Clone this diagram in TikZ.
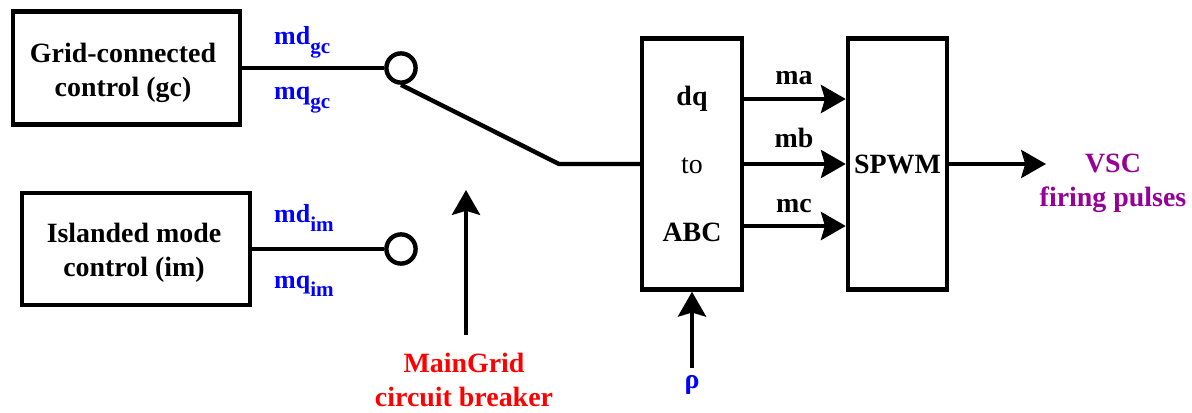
\documentclass[tikz,border=0pt]{standalone}
\usepackage{fontspec}
\setmainfont{Liberation Serif}
\usepackage{xcolor}
\usetikzlibrary{arrows.meta}
\definecolor{vscpurple}{RGB}{150,0,150}
\newcommand{\lowsub}[1]{\raisebox{-5.7pt}{\fontsize{15}{15}\selectfont #1}}

\begin{document}
\begin{tikzpicture}[x=0.025cm,y=-0.025cm,line width=0.11cm,
  font=\fontsize{19.85}{24.2}\selectfont\bfseries,
  blk/.style={draw,rectangle,inner sep=0pt},
  sig/.style={-{Stealth[length=0.62cm,width=0.7cm,inset=0.1cm]}},
  lbl/.style={font=\fontsize{18.5}{22}\selectfont\bfseries,text=blue,anchor=base west,inner sep=0pt},
  term/.style={draw,circle,minimum size=0.73cm,inner sep=0pt}]
\useasboundingbox (0,0) rectangle (1192,413);
% control blocks and switch terminals
\node[blk,minimum width=5.675cm,minimum height=2.825cm] (gc) at (126.5,68) {};
\node[align=center] (gctxt) at (123,73) {Grid-connected\\control (gc)};
\node[blk,minimum width=5.7cm,minimum height=2.8cm] (im) at (136,249) {};
\node[align=center] (imtxt) at (134,253) {Islanded mode\\control (im)};
\node[term] (cgc) at (401,68) {};
\node[term] (cim) at (401,249) {};
\draw (gc.east) -- (cgc.west);
\draw (im.east) -- (cim.west);
\node[lbl] (mdgc) at (272,45) {md\lowsub{gc}};
\node[lbl] (mqgc) at (272,100) {mq\lowsub{gc}};
\node[lbl] (mdim) at (272,223) {md\lowsub{im}};
\node[lbl] (mqim) at (272,288) {mq\lowsub{im}};
% transformation and modulator
\node[blk,align=center,minimum width=2.5cm,minimum height=6.275cm,font=\fontsize{19.85}{48.4}\selectfont\bfseries] (dq) at (692,164) {dq\\{\mdseries to}\\ABC};
\node[blk,minimum width=2.475cm,minimum height=6.275cm] (spwm) at (897.5,164) {SPWM};
\coordinate (pivot) at (559,164);
\draw (cgc.south) -- (pivot) -- (dq.west);
\foreach \y/\b/\t in {99/85/ma,164/148/mb,226/213/mc}{
  \draw[sig] (dq.east |- 0,\y) -- (spwm.west |- 0,\y);
  \node[anchor=base] (l\t) at (794,\b) {\t};
}
\coordinate (out) at (1046,164);
\draw[sig] (spwm.east) -- (out);
\node[text=vscpurple,align=center] (vsc) at (1113,183) {VSC\\firing pulses};
% breaker and angle inputs
\coordinate (cbtail) at (466,335);
\coordinate (cbtip) at (466,190);
\draw[sig] (cbtail) -- (cbtip);
\node[text=red,align=center] (mg) at (464,380) {MainGrid\\circuit breaker};
\node[text=blue,anchor=base] (rho) at (692,388) {ρ};
\draw[sig] (rho) -- (dq.south);
\end{tikzpicture}
\end{document}
